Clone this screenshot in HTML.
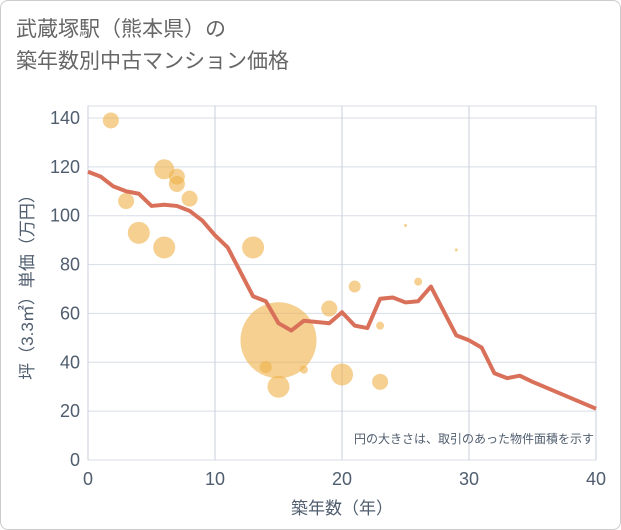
<!DOCTYPE html>
<html><head><meta charset="utf-8"><style>
body{margin:0;width:621px;height:530px;background:#fff;font-family:"Liberation Sans","Noto Sans CJK JP",sans-serif;}
.card{position:absolute;left:0;top:0;width:619px;height:528px;border:1px solid #ccc;border-radius:8px;}
.title{position:absolute;left:16px;top:14px;font-size:21px;line-height:32px;color:#666;}
</style></head><body>
<div class="card"></div>
<div class="title">武蔵塚駅（熊本県）の<br>築年数別中古マンション価格</div>
<svg id="chart" width="621" height="530" style="position:absolute;left:0;top:0"></svg>
<script>
const lineYears=[0,1,2,3,4,5,6,7,8,9,10,11,12,13,14,15,16,17,18,19,20,21,22,23,24,25,26,27,28,29,30,31,32,33,34,35,40];
const linePrices=[118,116,112,110,109,104,104.5,104,102,98,92,87,77,67,65,56,53,57,56.5,56,60.5,55,54,66,66.5,64.5,65,71,61,51,49,46,35.5,33.5,34.5,32,21];
const bubbleYears=[1.8,6,7,7,3,8,4,6,13,25,29,26,21,19,23,15,14,17,20,23,15];
const bubblePrices=[139,119,116,113,106,107,93,87,87,96,86,73,71,62,55,49,38,37,35,32,30];
const bubbleSizes=[8,10,8,8,8,8,11,11,11,1.5,1.5,4,6,8,4,38,6,4,11,8,11];
const xTicks=[0,10,20,30,40];
const yTicks=[0,20,40,60,80,100,120,140];
const svg=document.getElementById('chart');
const NS='http://www.w3.org/2000/svg';
const X0=88,X1=596,Y0=460,Y1=118;
const TXT='#4f5d6e';
const sx=v=>X0+(v-0)/(40-0)*(X1-X0);
const sy=v=>Y0-(v-0)/(140-0)*(Y0-Y1);
function mk(t,a){const e=document.createElementNS(NS,t);for(const k in a)e.setAttribute(k,a[k]);svg.appendChild(e);return e;}
let bg=mk('rect',{x:X0,y:106,width:X1-X0,height:Y0-106,fill:'#fff',stroke:'#d8dde6'});


yTicks.forEach(v=>{
  const g=mk('line',{x1:X0,x2:X1,y1:sy(v),y2:sy(v),stroke:'#d8dde6'});
  
  
  const t=mk('text',{x:X0-8,y:sy(v)+6,'text-anchor':'end','font-size':18,fill:TXT});
  t.textContent=v;
  
  
});
xTicks.forEach(v=>{
  const g=mk('line',{x1:sx(v),x2:sx(v),y1:106,y2:Y0,stroke:'#c8d0dc'});
  
  
  const t=mk('text',{x:sx(v),y:Y0+25,'text-anchor':'middle','font-size':18,fill:TXT});
  t.textContent=v;
  
  
});
bubbleYears.forEach((yr,i)=>{
  const c=mk('circle',{cx:sx(yr),cy:sy(bubblePrices[i]),r:bubbleSizes[i],fill:'rgba(238,176,72,0.6)'});
  
  
});
const p=mk('polyline',{points:lineYears.map((y,i)=>sx(y)+','+sy(linePrices[i])).join(' '),fill:'none',stroke:'#d9705a','stroke-width':4,'stroke-linejoin':'round'});


const xl=mk('text',{x:(X0+X1)/2,y:514,'text-anchor':'middle','font-size':17,fill:TXT});
xl.textContent='築年数（年）';


const yl=mk('text',{x:0,y:0,'text-anchor':'middle','font-size':17,fill:TXT,transform:'translate(33,'+((106+Y0)/2)+') rotate(-90)'});
yl.textContent='坪（3.3㎡）単価（万円）';


const note=mk('text',{x:594,y:443,'text-anchor':'end','font-size':12,fill:TXT});
note.textContent='円の大きさは、取引のあった物件面積を示す';


</script>
</body></html>
